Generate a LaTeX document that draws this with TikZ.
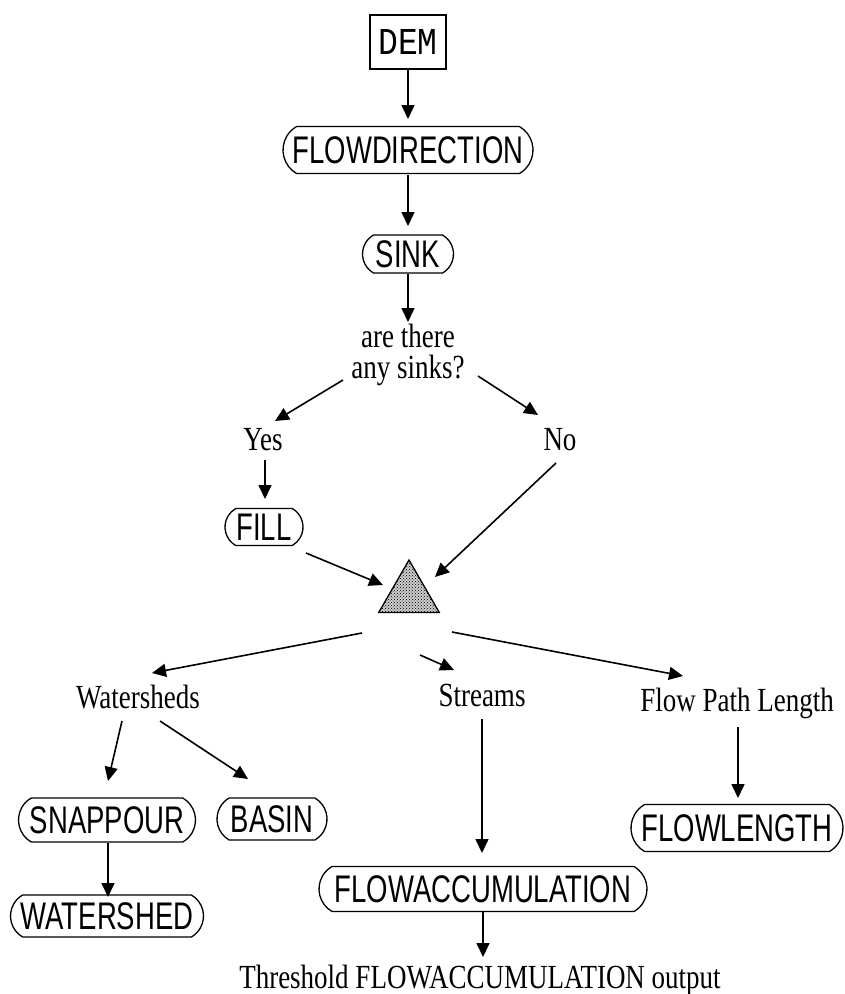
\documentclass[tikz,border=0pt]{standalone}
\usepackage{fontspec}
\setmainfont{Liberation Serif}
\setsansfont{Liberation Sans}
\setmonofont{Liberation Mono}
\usetikzlibrary{arrows.meta,shapes.misc,shapes.geometric,calc,patterns}
\newcommand\vstr[1]{\scalebox{1}[1.25]{#1}}
\newcommand\vstrs[1]{\scalebox{1}[1.4]{#1}}
\begin{document}
\begin{tikzpicture}[x=1pt,y=-1pt,
  tool/.style={draw, line width=1.3pt, rounded rectangle, rounded rectangle arc length=120,
    font=\sffamily\fontsize{27.5}{27.5}\selectfont, inner xsep=0pt, inner ysep=0pt, minimum height=44pt},
  lbl/.style={font=\fontsize{27}{27}\selectfont, inner sep=0pt, anchor=base},
  arr/.style={line width=1.6pt, -{Triangle[length=14pt,width=13pt]}},
]
\useasboundingbox (0,0) rectangle (844,994);

\node[draw, line width=1.3pt, font=\ttfamily\fontsize{33}{33}\selectfont, minimum width=76pt, minimum height=54pt, inner sep=0pt] (dem) at (408,42) {\scalebox{1}[1.15]{DEM}};
\node[tool, minimum width=250pt, minimum height=47pt] (fd) at (408,150) {\vstrs{FLOWDIRECTION}};
\node[tool, minimum width=91pt, minimum height=38pt] (sink) at (408,254) {\vstrs{SINK}};
\node[lbl] (q1) at (408,347) {\vstr{are there}};
\node[lbl] (q2) at (408,378) {\vstr{any sinks?}};
\node[lbl] (yes) at (263,450) {\vstr{Yes}};
\node[lbl] (no) at (560,450) {\vstr{No}};
\node[tool, minimum width=78pt, minimum height=37pt] (fill) at (264,527) {\vstrs{FILL}};
\node[draw, line width=1.3pt, preaction={fill=black!20}, pattern=crosshatch dots, pattern color=black, regular polygon, regular polygon sides=3, minimum size=70pt, inner sep=0pt] (tri) at (409,595) {};
\node[lbl] (ws) at (138,708) {\vstr{Watersheds}};
\node[lbl] (streams) at (482,706) {\vstr{Streams}};
\node[lbl] (fpl) at (737,711) {\vstr{Flow Path Length}};
\node[tool, minimum width=177pt, minimum height=44pt] (snap) at (107,820) {\vstrs{SNAPPOUR}};
\node[tool, minimum width=110pt, minimum height=42pt] (basin) at (272,819) {\vstrs{BASIN}};
\node[tool, minimum width=193pt, minimum height=42pt] (wshed) at (107,916) {\vstrs{WATERSHED}};
\node[tool, minimum width=212pt, minimum height=47pt] (flen) at (737,828) {\vstrs{FLOWLENGTH}};
\node[tool, minimum width=328pt, minimum height=45pt] (facc) at (483,889) {\vstrs{FLOWACCUMULATION}};
\node[lbl] (thr) at (480,988) {\vstr{Threshold FLOWACCUMULATION output}};

\draw[arr] ($(dem)+(0,28)$) -- ($(fd)+(0,-31)$);
\draw[arr] ($(fd)+(0,25)$) -- ($(sink)+(0,-28)$);
\draw[arr] ($(sink)+(0,20)$) -- ($(q1.base)+(0,-25)$);
\draw[arr] ($(q2.base)+(-65,2)$) -- ($(yes.base)+(12,-29)$);
\draw[arr] ($(q2.base)+(70,-2)$) -- ($(no.base)+(-22,-35)$);
\draw[arr] ($(yes.base)+(2,10)$) -- ($(fill)+(1,-28)$);
\draw[arr] ($(fill)+(42,26)$) -- ($(tri)+(-26,-10)$);
\draw[arr] ($(no.base)+(-4,13)$) -- ($(tri)+(26,-18)$);
\draw[arr] ($(tri)+(-47,38)$) -- ($(ws.base)+(14,-35)$);
\draw[arr] ($(tri)+(11,60)$) -- ($(streams.base)+(-28,-36)$);
\draw[arr] ($(tri)+(43,37)$) -- ($(fpl.base)+(-54,-35)$);
\draw[arr] ($(ws.base)+(-16,13)$) -- ($(snap)+(1,-39)$);
\draw[arr] ($(ws.base)+(22,13)$) -- ($(basin)+(-24,-40)$);
\draw[arr] ($(snap)+(1,23)$) -- ($(wshed)+(1,-19)$);
\draw[arr] ($(streams.base)+(0,13)$) -- ($(facc)+(-1,-36)$);
\draw[arr] ($(fpl.base)+(1,16)$) -- ($(flen)+(1,-30)$);
\draw[arr] ($(facc)+(0,23)$) -- ($(thr.base)+(3,-31)$);
\end{tikzpicture}
\end{document}
